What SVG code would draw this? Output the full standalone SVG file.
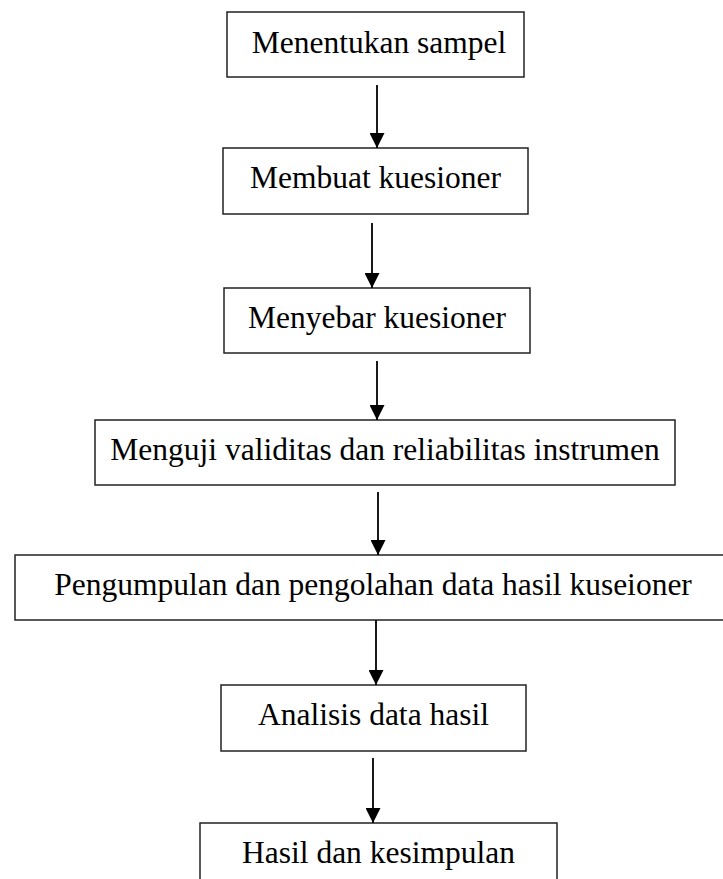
<svg xmlns="http://www.w3.org/2000/svg" width="723" height="879" viewBox="0 0 723 879">
<style>
.box{fill:#fff;stroke:#222;stroke-width:1.5}
.lbl{font-family:"Liberation Serif","Times New Roman",serif;font-size:31.5px;fill:#000;text-anchor:middle}
.conn{stroke:#000;stroke-width:1.8;fill:none;marker-end:url(#ah)}
</style>
<defs>
<marker id="ah" viewBox="0 0 14 15" refX="15" refY="7.5" markerWidth="14" markerHeight="15" markerUnits="userSpaceOnUse" orient="auto">
<path d="M0,0 L15,7.5 L0,15 Z" fill="#000"/>
</marker>
</defs>
<rect width="723" height="879" fill="#fff"/>
<g id="n1"><rect class="box" x="227" y="12" width="297" height="65"/><text class="lbl" x="379" y="53">Menentukan sampel</text></g>
<g id="n2"><rect class="box" x="223" y="148" width="305" height="66"/><text class="lbl" x="375.5" y="188">Membuat kuesioner</text></g>
<g id="n3"><rect class="box" x="224" y="288" width="306" height="65"/><text class="lbl" x="377" y="328">Menyebar kuesioner</text></g>
<g id="n4"><rect class="box" x="95" y="420" width="580" height="65"/><text class="lbl" x="385" y="460">Menguji validitas dan reliabilitas instrumen</text></g>
<g id="n5"><rect class="box" x="15" y="555" width="720" height="65"/><text class="lbl" x="373" y="595">Pengumpulan dan pengolahan data hasil kuseioner</text></g>
<g id="n6"><rect class="box" x="221" y="685" width="305" height="66"/><text class="lbl" x="373.5" y="725">Analisis data hasil</text></g>
<g id="n7"><rect class="box" x="200" y="823" width="357" height="70"/><text class="lbl" x="378.5" y="863">Hasil dan kesimpulan</text></g>
<g id="connectors">
<line class="conn" x1="377" y1="85" x2="377" y2="148"/>
<line class="conn" x1="372" y1="223" x2="372" y2="288"/>
<line class="conn" x1="377" y1="361" x2="377" y2="420"/>
<line class="conn" x1="378" y1="492" x2="378" y2="555"/>
<line class="conn" x1="376" y1="620" x2="376" y2="685"/>
<line class="conn" x1="373" y1="758" x2="373" y2="823"/>
</g>
</svg>
